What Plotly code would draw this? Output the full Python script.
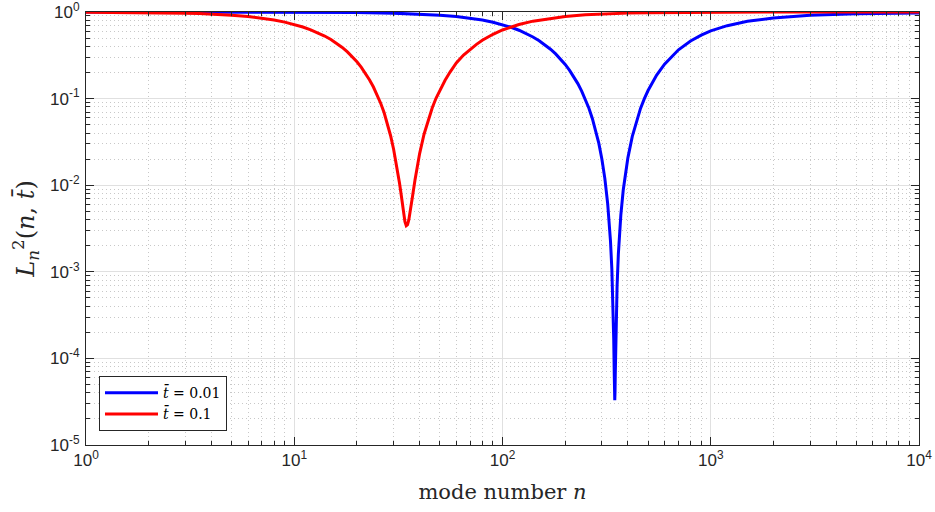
import plotly.graph_objects as go

# Squared mode amplitude L_n^2(n, t) versus mode number n, for two times t
n_t001 = [1, 5, 10, 15, 20, 30, 40, 50, 60, 70, 80, 90, 100, 110, 120, 130, 140, 150,
          160, 170, 180, 190, 200, 210, 220, 230, 240, 250, 260, 270, 280, 290, 300,
          310, 320, 325, 330, 335, 338, 340, 342, 344, 345, 346, 347, 348, 350, 352,
          355, 360, 365, 370, 380, 390, 400, 420, 440, 460, 480, 500, 550, 600, 700,
          800, 900, 1000, 1200, 1500, 2000, 3000, 5000, 7000, 10000]
L2_t001 = [0.99998, 0.9992, 0.9967, 0.9925, 0.9867, 0.9703, 0.948, 0.92, 0.887, 0.849,
           0.807, 0.762, 0.715, 0.666, 0.616, 0.566, 0.515, 0.466, 0.418, 0.372, 0.328,
           0.287, 0.248, 0.212, 0.179, 0.149, 0.122, 0.0985, 0.0774, 0.059, 0.0435,
           0.0306, 0.0201, 0.012, 0.0061, 0.0039, 0.00227, 0.00108, 0.00058, 0.00034,
           0.00017, 0.000067, 0.000042, 0.000033, 0.000041, 0.000066, 0.000164,
           0.00033, 0.00069, 0.0016, 0.0029, 0.0045, 0.0088, 0.0142, 0.0207, 0.0366,
           0.0556, 0.077, 0.1, 0.124, 0.187, 0.25, 0.366, 0.462, 0.54, 0.605, 0.695,
           0.78, 0.855, 0.915, 0.955, 0.968, 0.977]

n_t01 = [1, 1.5, 2, 2.5, 3, 3.5, 4, 5, 6, 7, 8, 9, 10, 11, 12, 13, 14, 15, 16, 17, 18,
         19, 20, 21, 22, 23, 24, 25, 26, 27, 28, 29, 30, 31, 32, 32.5, 33, 33.5, 34,
         34.5, 35, 35.5, 36, 36.5, 37, 38, 39, 40, 42, 44, 46, 48, 50, 53, 56, 60, 65,
         70, 75, 80, 90, 100, 110, 120, 140, 170, 200, 250, 300, 400, 500, 700, 1000,
         2000, 10000]
L2_t01 = [0.9966, 0.9925, 0.9867, 0.979, 0.9705, 0.960, 0.948, 0.92, 0.887, 0.849,
          0.808, 0.764, 0.718, 0.671, 0.623, 0.576, 0.528, 0.481, 0.435, 0.39, 0.346,
          0.305, 0.266, 0.229, 0.195, 0.164, 0.136, 0.111, 0.0885, 0.069, 0.052,
          0.0375, 0.026, 0.0172, 0.0107, 0.0083, 0.0064, 0.0048, 0.0038, 0.0034,
          0.0035, 0.0040, 0.0048, 0.0060, 0.0075, 0.0115, 0.0168, 0.0232, 0.0388,
          0.0575, 0.0785, 0.1015, 0.1255, 0.163, 0.2025, 0.258, 0.318, 0.371, 0.423,
          0.471, 0.553, 0.62, 0.674, 0.718, 0.784, 0.848, 0.888, 0.927, 0.9485, 0.9707,
          0.981, 0.990, 0.995, 0.9988, 0.9999]

x_tick_vals = [1, 10, 100, 1000, 10000]
x_tick_text = ["10<sup>0</sup>", "10<sup>1</sup>", "10<sup>2</sup>", "10<sup>3</sup>", "10<sup>4</sup>"]
y_tick_vals = [1e-5, 1e-4, 1e-3, 1e-2, 1e-1, 1]
y_tick_text = ["10<sup>-5</sup>", "10<sup>-4</sup>", "10<sup>-3</sup>", "10<sup>-2</sup>",
               "10<sup>-1</sup>", "10<sup>0</sup>"]

x_minor = [k * 10 ** e for e in range(0, 4) for k in range(2, 10)]
y_minor = [k * 10.0 ** e for e in range(-5, 0) for k in range(2, 10)]

AX = "#262626"
SERIF = "DejaVu Serif"

fig = go.Figure()
fig.add_trace(go.Scatter(x=n_t001, y=L2_t001, mode="lines",
                         line=dict(color="#0000ff", width=3),
                         name="<i>t\u0304</i> = 0.01"))
fig.add_trace(go.Scatter(x=n_t01, y=L2_t01, mode="lines",
                         line=dict(color="#ff0000", width=3),
                         name="<i>t\u0304</i> = 0.1"))

axis_common = dict(
    type="log", showline=True, linecolor=AX, linewidth=1, mirror="allticks",
    ticks="inside", ticklen=8, tickcolor=AX, tickwidth=1, automargin=False,
    showgrid=True, gridcolor="#e0e0e0", gridwidth=1, zeroline=False,
    ticklabeloverflow="allow",
    tickfont=dict(family="Liberation Sans, Arial", size=17, color=AX),
)
minor_common = dict(tickmode="array", ticks="inside", ticklen=4, tickcolor=AX,
                    showgrid=True, gridcolor="#c8c8c8", griddash="1px,3px", gridwidth=1)

fig.update_xaxes(
    **axis_common, range=[0, 4], tickmode="array",
    tickvals=x_tick_vals, ticktext=x_tick_text,
    minor=dict(**minor_common, tickvals=x_minor),
    title=dict(text="mode number <i>n</i>", font=dict(family=SERIF, size=21, color=AX),
               standoff=14),
)
fig.update_yaxes(
    **axis_common, range=[-5, 0], tickmode="array",
    tickvals=y_tick_vals, ticktext=y_tick_text, ticklabelstandoff=2,
    minor=dict(**minor_common, tickvals=y_minor),
    title=dict(text="<i>L</i><sub><i>n</i></sub><sup>2</sup>(<i>n</i>, <i>t\u0304</i>)",
               font=dict(family=SERIF, size=24, color=AX), standoff=8),
)

fig.update_layout(
    width=935, height=512,
    margin=dict(l=86, r=16, t=12, b=67),
    paper_bgcolor="white", plot_bgcolor="white",
    showlegend=True,
    legend=dict(x=0.0156, y=0.032, xanchor="left", yanchor="bottom",
                bgcolor="white", bordercolor=AX, borderwidth=1,
                font=dict(family=SERIF, size=14, color="black"),
                itemwidth=53, tracegroupgap=0),
)

fig.write_html("out.html")
